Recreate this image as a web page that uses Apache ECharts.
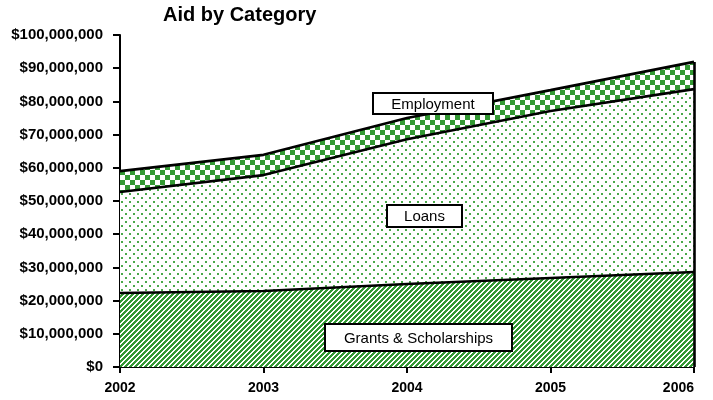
<!DOCTYPE html>
<html>
<head>
<meta charset="utf-8">
<script src="https://cdn.jsdelivr.net/npm/echarts@6/dist/echarts.min.js"></script>
<style>
  html, body { margin: 0; padding: 0; background: #fff; }
  #chart { width: 713px; height: 400px; }
</style>
</head>
<body>
<div id="chart"></div>
<script>
// data
const years = ['2002', '2003', '2004', '2005', '2006'];
const grants = [22300000, 22900000, 25000000, 26800000, 28600000];
const loans = [30400000, 34900000, 43600000, 50300000, 55100000];
const employment = [6300000, 6100000, 6400000, 6300000, 8200000];
const seriesNames = ['Grants & Scholarships', 'Loans', 'Employment'];

const GREEN = '#339933';
const FONT = '"Liberation Sans", Arial, sans-serif';

function makeTile(w, h, draw) {
  const c = document.createElement('canvas');
  c.width = w; c.height = h;
  const ctx = c.getContext('2d');
  ctx.fillStyle = '#fff';
  ctx.fillRect(0, 0, w, h);
  ctx.fillStyle = GREEN;
  draw(ctx);
  return c;
}

// "////" hatching, drawn pixel by pixel so it stays crisp
const stripes = makeTile(5, 5, ctx => {
  for (let x = 0; x < 5; x++) {
    for (let y = 0; y < 5; y++) {
      if ((x + y) % 5 < 3) ctx.fillRect(x, y, 1, 1);
    }
  }
});
const dots = makeTile(8, 8, ctx => {
  ctx.fillStyle = '#4aa84a';
  ctx.fillRect(1, 1, 2, 2);
  ctx.fillRect(5, 5, 2, 2);
});
const checks = makeTile(10, 10, ctx => {
  ctx.fillRect(0, 0, 5, 5);
  ctx.fillRect(5, 5, 5, 5);
});

const fills = [stripes, dots, checks];
const values = [grants, loans, employment];
const totals = years.map((y, i) => grants[i] + loans[i] + employment[i]);

const chart = echarts.init(document.getElementById('chart'));

function money(v) {
  return '$' + v.toString().replace(/\B(?=(\d{3})+(?!\d))/g, ',');
}

function box(text, x, y, w, h) {
  return {
    type: 'group',
    x: x, y: y,
    children: [
      { type: 'rect', z: 100, shape: { x: 0, y: 0, width: w, height: h },
        style: { fill: '#fff', stroke: '#000', lineWidth: 2 } },
      { type: 'text', z: 101, x: w / 2, y: h / 2 + 1,
        style: { text: text, fill: '#000', font: '15px ' + FONT,
                 align: 'center', verticalAlign: 'middle' } }
    ]
  };
}

const series = seriesNames.map((name, i) => ({
  name: name,
  type: 'line',
  stack: 'total',
  data: values[i],
  symbol: 'none',
  lineStyle: { color: '#000', width: 2.6 },
  areaStyle: { color: { image: fills[i], repeat: 'repeat' }, opacity: 1 },
  z: 3 - i
}));
series[2].markLine = {
  symbol: 'none',
  silent: true,
  label: { show: false },
  lineStyle: { color: '#000', width: 2.6, type: 'solid' },
  data: [[{ coord: [years.length - 1, 0] }, { coord: [years.length - 1, totals[totals.length - 1]] }]]
};

chart.setOption({
  animation: false,
  title: {
    text: 'Aid by Category',
    left: 158, top: 0,
    textStyle: { fontFamily: FONT, fontSize: 20, fontWeight: 'bold', color: '#000' }
  },
  grid: { left: 120, right: 19, top: 35, bottom: 33 },
  xAxis: {
    type: 'category',
    data: years,
    boundaryGap: false,
    axisLine: { lineStyle: { color: '#000', width: 2 } },
    axisTick: { show: true, length: 6, lineStyle: { color: '#000', width: 2 } },
    axisLabel: { color: '#000', fontWeight: 'bold', fontSize: 14, margin: 14,
                 fontFamily: FONT, alignMaxLabel: 'right' },
    splitLine: { show: false }
  },
  yAxis: {
    type: 'value',
    min: 0, max: 100000000, interval: 10000000,
    axisLine: { show: true, lineStyle: { color: '#000', width: 2 } },
    axisTick: { show: true, length: 7, lineStyle: { color: '#000', width: 2 } },
    axisLabel: { color: '#000', fontWeight: 'bold', fontSize: 15, margin: 17,
                 fontFamily: FONT, formatter: money },
    splitLine: { show: false }
  },
  series: series,
  graphic: [
    box('Employment', 373, 93, 120, 21),
    box('Loans', 387, 205, 75, 22),
    box('Grants & Scholarships', 325, 324, 187, 27)
  ]
});
</script>
</body>
</html>
